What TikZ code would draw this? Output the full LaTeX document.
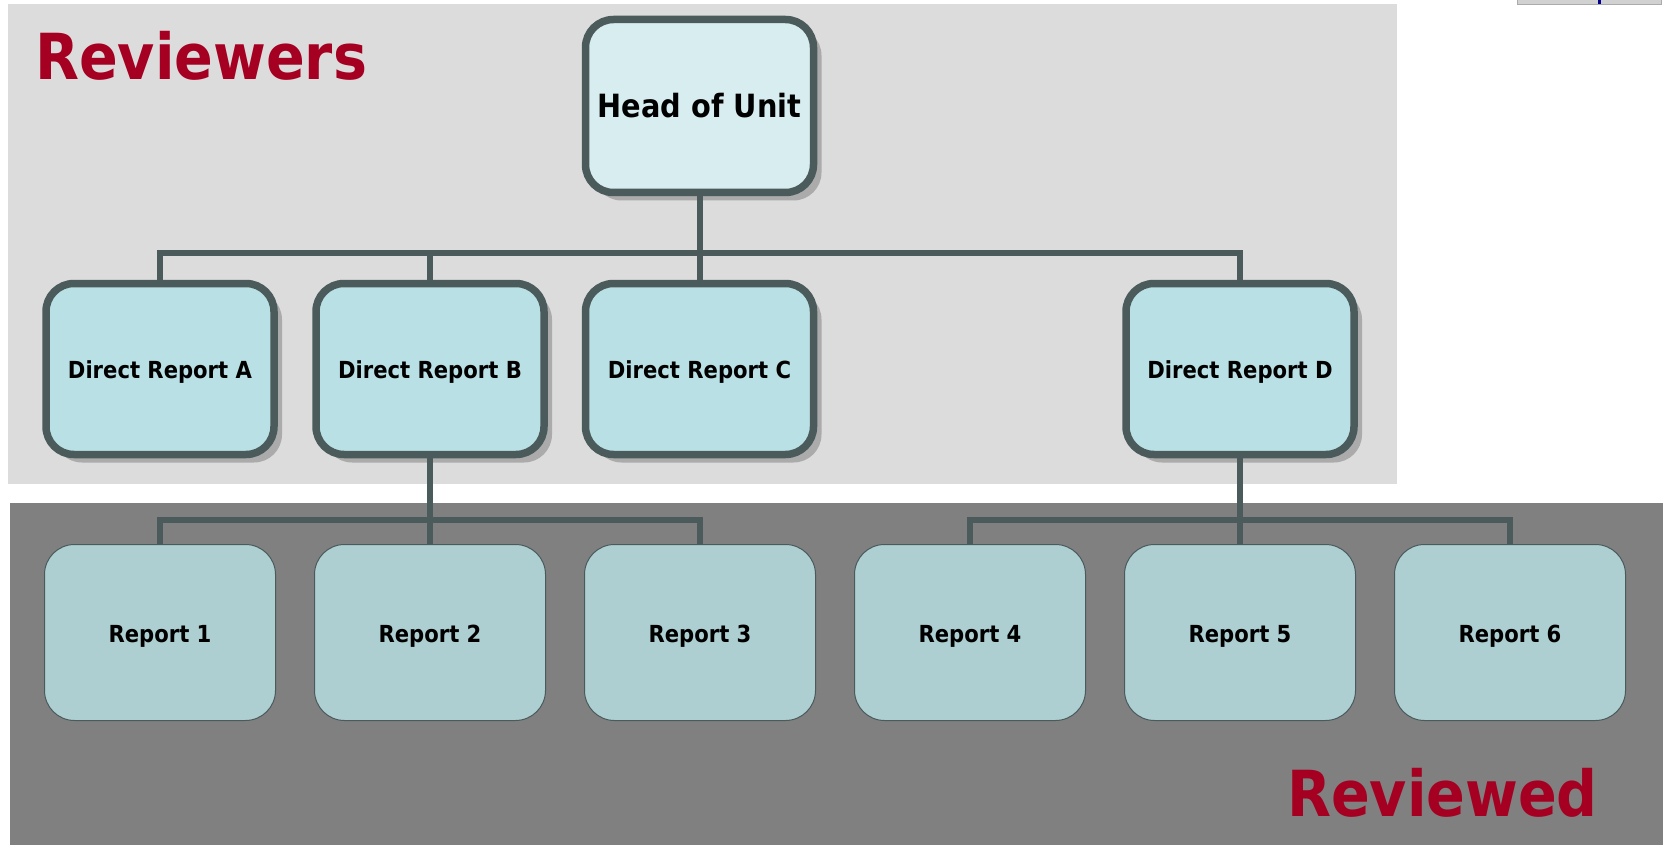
\documentclass[tikz,border=0pt]{standalone}
\usepackage{fontspec}
\setmainfont{DejaVu Sans Condensed}
\usetikzlibrary{shadows}
\definecolor{bgl}{HTML}{DCDCDC}
\definecolor{bgd}{HTML}{808080}
\definecolor{headfill}{HTML}{D8EDF0}
\definecolor{dirfill}{HTML}{B9E0E4}
\definecolor{repfill}{HTML}{ADCFD2}
\definecolor{edgec}{HTML}{4B5A5A}
\definecolor{titlered}{HTML}{A50021}
\definecolor{shadowc}{HTML}{ABABAB}
\begin{document}
\begin{tikzpicture}[x=1pt,y=-1pt,
  shadowed/.style={drop shadow={shadow xshift=8pt,shadow yshift=-8pt,fill=shadowc,opacity=1}},
  headbox/.style={shadowed,draw=edgec,line width=7.5pt,fill=headfill,rounded corners=28pt,
    minimum width=228pt,minimum height=173pt,inner sep=0pt,align=center,
    text height=24pt,text depth=0pt,
    font=\bfseries\fontsize{32}{38}\selectfont},
  dirbox/.style={shadowed,draw=edgec,line width=7.5pt,fill=dirfill,rounded corners=28pt,
    minimum width=228pt,minimum height=171pt,inner sep=0pt,align=center,
    text height=18pt,text depth=0pt,
    font=\bfseries\fontsize{23.5}{28}\selectfont},
  repbox/.style={draw=edgec,line width=1pt,fill=repfill,rounded corners=30pt,
    minimum width=231pt,minimum height=176pt,inner sep=0pt,align=center,
    text height=19pt,text depth=0pt,
    font=\bfseries\fontsize{23.5}{28}\selectfont},
  conn/.style={draw=edgec,line width=6pt},
  title/.style={text=titlered,font=\bfseries\fontsize{63.5}{70}\selectfont,inner sep=0pt,anchor=base west}
]
\useasboundingbox (0,0) rectangle (1663,845);
% backgrounds
\fill[bgl] (8,4) rectangle (1397,484);
\fill[bgd] (10,503) rectangle (1663,845);
\filldraw[fill=bgl!95!black,draw=shadowc,line width=0.8pt] (1517,-1) rectangle (1661,4);
\fill[blue!55!black] (1598,0) rectangle (1601,4);
% titles
\node[title] (tRev) at (35,80) {Reviewers};
\node[title] (tRvd) at (1287,816) {Reviewed};
% nodes
\node[headbox] (head) at (699.5,106) {Head of Unit};
\node[dirbox] (dA) at (160,369) {Direct Report A};
\node[dirbox] (dB) at (430,369) {Direct Report B};
\node[dirbox] (dC) at (699.5,369) {Direct Report C};
\node[dirbox] (dD) at (1240,369) {Direct Report D};
\node[repbox] (r1) at (160,632.5) {Report 1};
\node[repbox] (r2) at (430,632.5) {Report 2};
\node[repbox] (r3) at (700,632.5) {Report 3};
\node[repbox] (r4) at (970,632.5) {Report 4};
\node[repbox] (r5) at (1240,632.5) {Report 5};
\node[repbox] (r6) at (1510,632.5) {Report 6};
% connectors
\coordinate (bar1) at (699.5,253.5);
\draw[conn] (head.south) -- (bar1);
\draw[conn] (dA.north) |- (bar1);
\draw[conn] (dD.north) |- (bar1);
\draw[conn] (dB.north) -- (dB.north |- bar1);
\draw[conn] (dC.north) -- (bar1);
\coordinate (bar2) at (430,520);
\draw[conn] (dB.south) -- (bar2);
\draw[conn] (r1.north) |- (bar2);
\draw[conn] (r3.north) |- (bar2);
\draw[conn] (r2.north) -- (bar2);
\coordinate (bar3) at (1240,520);
\draw[conn] (dD.south) -- (bar3);
\draw[conn] (r4.north) |- (bar3);
\draw[conn] (r6.north) |- (bar3);
\draw[conn] (r5.north) -- (bar3);
\end{tikzpicture}
\end{document}
